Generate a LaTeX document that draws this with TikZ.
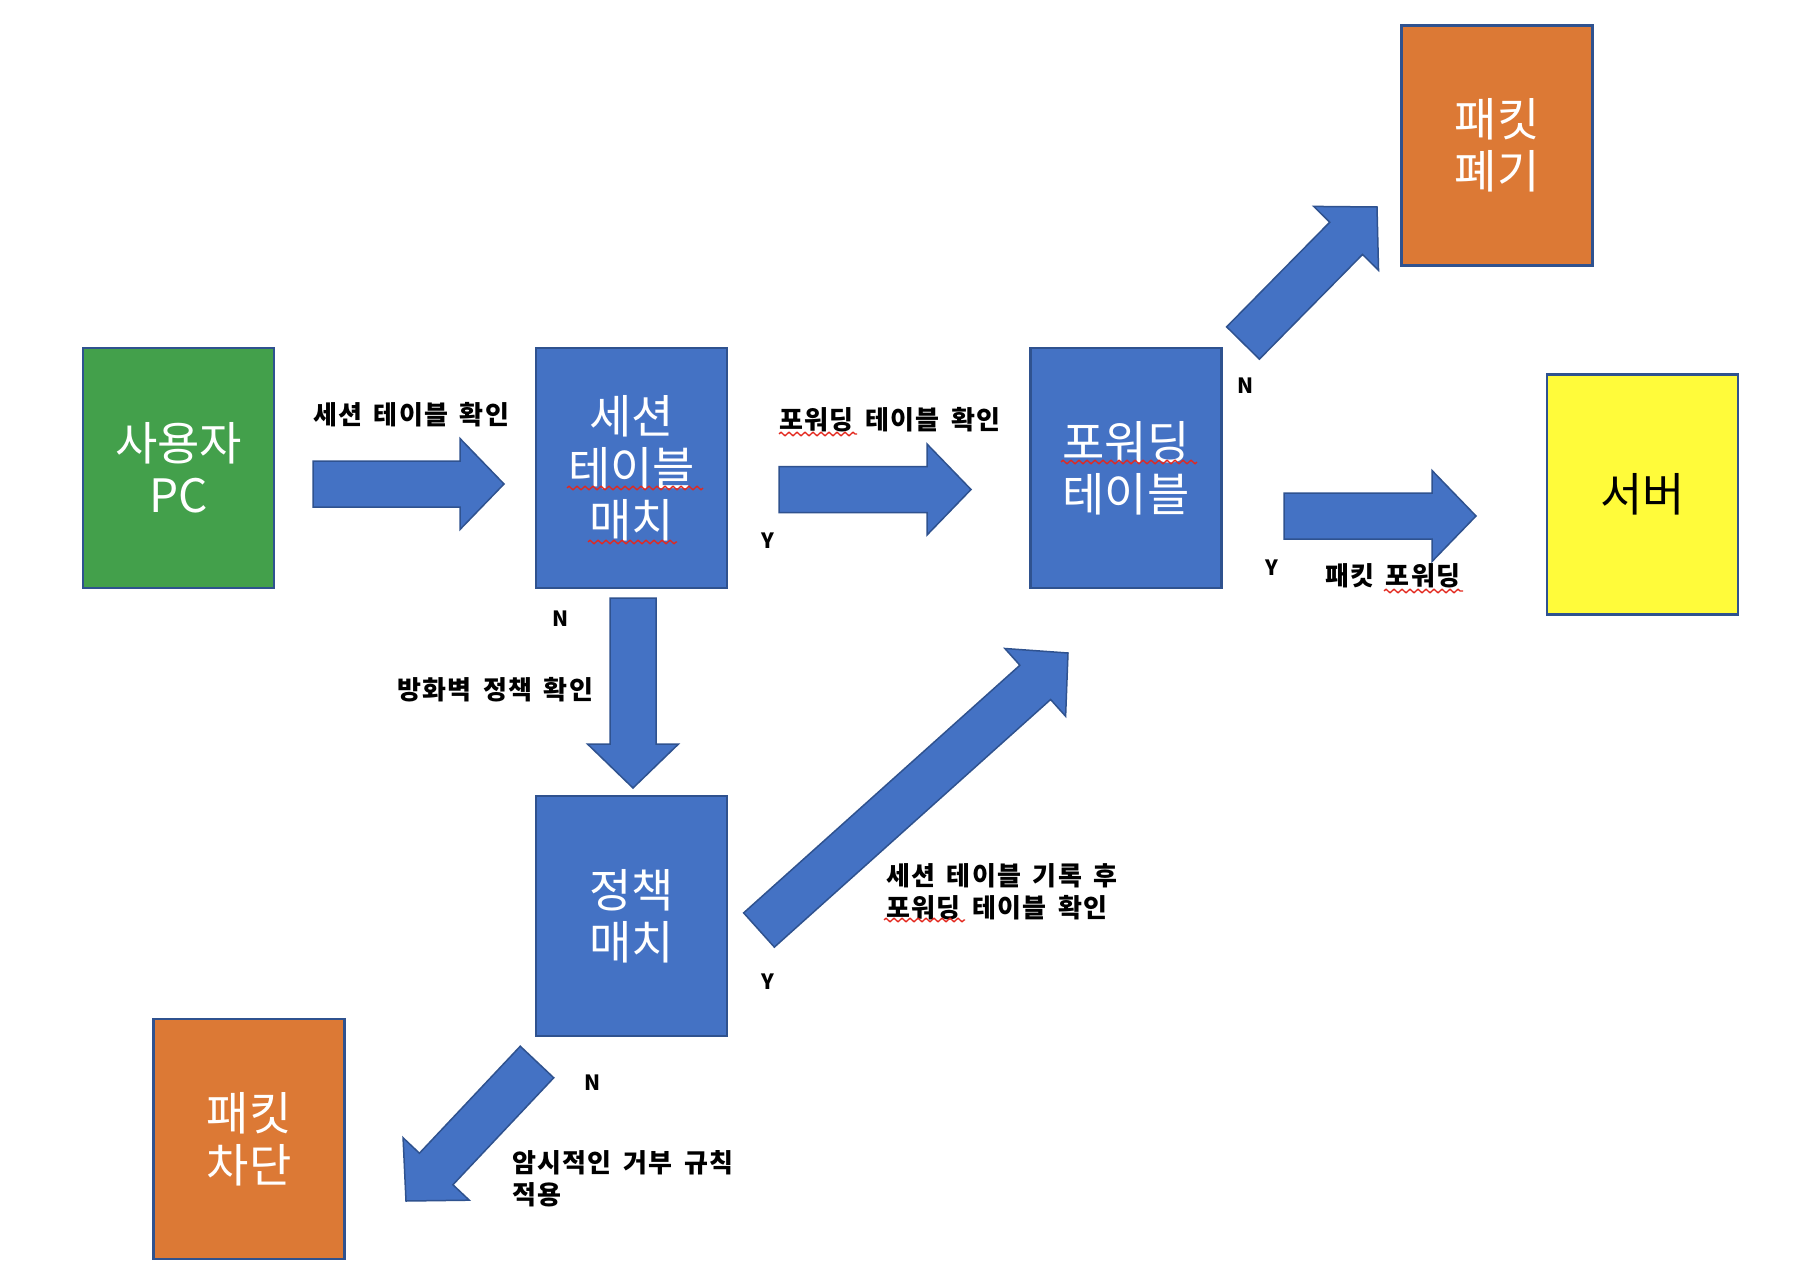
\documentclass[tikz,border=0pt]{standalone}
\usepackage{fontspec}
\newfontfamily\kr{Noto Sans CJK KR}
\newfontfamily\krl[LetterSpace=5,WordSpace=1.6]{Noto Sans CJK KR}
\usetikzlibrary{calc,decorations.pathmorphing}
\definecolor{pblue}{HTML}{4472C4}
\definecolor{pborder}{HTML}{2F528F}
\definecolor{pgreen}{HTML}{43A04B}
\definecolor{porange}{HTML}{DC7935}
\definecolor{pyellow}{HTML}{FFFB3A}
\definecolor{sqred}{HTML}{E3281E}
\tikzset{
  box/.style={draw=pborder, line width=2.5pt, minimum width=191pt, minimum height=240pt,
    inner sep=0pt, align=center, text=white, font=\kr\fontsize{46}{52}\selectfont},
  lbl/.style={inner sep=0pt, align=left, text=black, font=\krl\bfseries\fontsize{26}{32}\selectfont},
  yn/.style={inner sep=0pt, text=black, font=\kr\bfseries\fontsize{21}{25}\selectfont},
  barrow/.style={fill=pblue, draw=pborder, line width=1.5pt, line join=miter},
  squig/.style={draw=sqred, line width=1.3pt, decorate,
    decoration={zigzag, segment length=8pt, amplitude=1.8pt}},
}
\newcommand\blockarrow[3]{%
  \coordinate (#3-n) at ($(#2)!44pt!(#1)$);
  \draw[barrow] ($(#1)!23pt!90:(#2)$) -- ($(#3-n)!23pt!90:(#2)$) -- ($(#3-n)!45.5pt!90:(#2)$)
    -- (#2) -- ($(#3-n)!45.5pt!-90:(#2)$) -- ($(#3-n)!23pt!-90:(#2)$) -- ($(#1)!23pt!-90:(#2)$) -- cycle;
}
\begin{document}
\begin{tikzpicture}[x=1pt,y=-1pt]
\useasboundingbox[fill=white] (0,0) rectangle (1796,1284);
% boxes
\node[box, fill=pgreen] (pc) at (178.5,468) {사용자\\PC};
\node[box, fill=pblue] (sess) at (631.5,468) {세션\\테이블\\매치};
\node[box, fill=pblue] (fwd) at (1126,468) {포워딩\\테이블};
\node[box, fill=porange] (drop) at (1497,145.5) {패킷\\폐기};
\node[box, fill=pyellow, text=black] (srv) at (1642.5,494.5) {서버};
\node[box, fill=pblue] (pol) at (631.5,916) {정책\\매치};
\node[box, fill=porange] (blk) at (249,1139) {패킷\\차단};
% arrow endpoints
\coordinate (a1s) at (313,484);  \coordinate (a1e) at (504,484);
\coordinate (a2s) at (779,489.5); \coordinate (a2e) at (971,489.5);
\coordinate (a3s) at (1284,516); \coordinate (a3e) at (1476,516);
\coordinate (a4s) at (633,598);  \coordinate (a4e) at (633,788);
\coordinate (a5s) at (1243,343); \coordinate (a5e) at (1377,207);
\coordinate (a6s) at (759,930);  \coordinate (a6e) at (1068,653);
\coordinate (a7s) at (537,1062); \coordinate (a7e) at (406,1201);
\blockarrow{a1s}{a1e}{a1}
\blockarrow{a2s}{a2e}{a2}
\blockarrow{a3s}{a3e}{a3}
\blockarrow{a4s}{a4e}{a4}
\blockarrow{a5s}{a5e}{a5}
\blockarrow{a6s}{a6e}{a6}
\blockarrow{a7s}{a7e}{a7}
% labels
\node[lbl, anchor=west] (l1) at (313,415) {세션 테이블 확인};
\node[lbl, anchor=west] (l2) at (779,420) {포워딩 테이블 확인};
\node[lbl, anchor=west] (l3) at (397,690) {방화벽 정책 확인};
\node[lbl, anchor=west] (l4) at (886,892) {세션 테이블 기록 후\\포워딩 테이블 확인};
\node[lbl, anchor=west] (l5) at (512,1179) {암시적인 거부 규칙\\적용};
\node[lbl, anchor=west] (l6) at (1325,576) {패킷 포워딩};
\node[yn] (y1) at (768,541) {Y};
\node[yn] (n1) at (561,619) {N};
\node[yn] (n2) at (1246,386) {N};
\node[yn] (y2) at (1272,568) {Y};
\node[yn] (y3) at (768,982) {Y};
\node[yn] (n3) at (593,1083) {N};
% spell-check squiggles
\draw[squig] (567,488) -- (703,488);
\draw[squig] (588,542) -- (677,542);
\draw[squig] (779,434) -- (857,434);
\draw[squig] (1061,462) -- (1197,462);
\draw[squig] (1384,591) -- (1463,591);
\draw[squig] (884,920) -- (965,920);
\end{tikzpicture}
\end{document}
